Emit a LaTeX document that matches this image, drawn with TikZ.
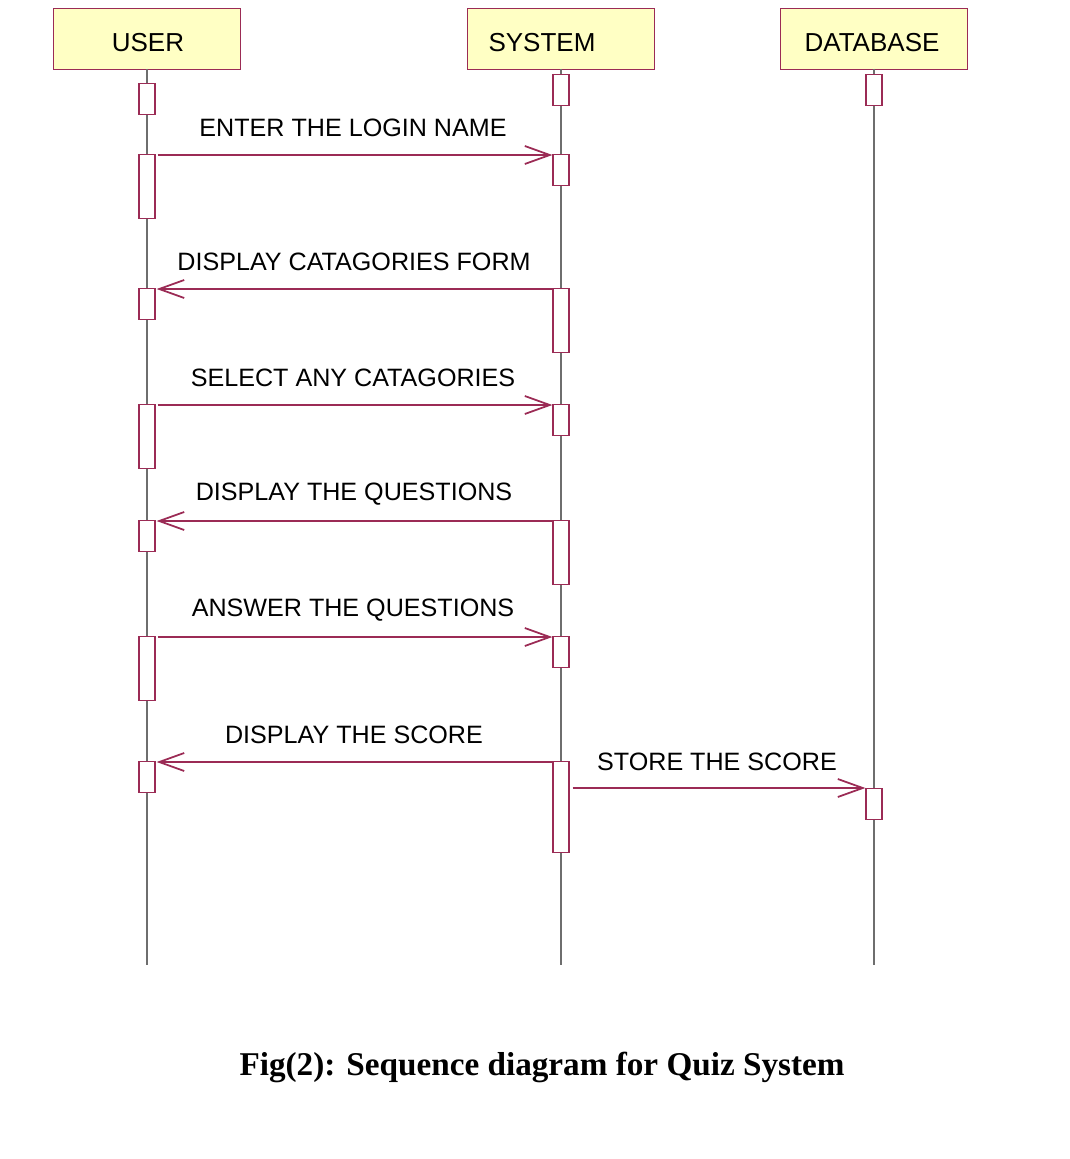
\documentclass[tikz,border=0pt]{standalone}
\usepackage{fontspec}
\setmainfont{Liberation Sans}
\newfontfamily\capfont{Liberation Serif}
\usetikzlibrary{arrows.meta}
\definecolor{maroon}{HTML}{9B2B55}
\definecolor{headfill}{HTML}{FFFFC4}
\definecolor{lifegray}{HTML}{6E6E6E}
\tikzset{
  head/.style={draw=maroon, fill=headfill, line width=0.7pt, minimum width=3.74cm, minimum height=1.22cm, anchor=north west, inner sep=0pt},
  headtxt/.style={font=\fontsize{14.8}{17}\selectfont, inner sep=0pt},
  bar/.style={draw=maroon, fill=white, line width=0.7pt, minimum width=0.32cm, inner sep=0pt, anchor=north},
  life/.style={draw=lifegray, line width=0.6pt},
  msg/.style={draw=maroon, line width=0.8pt, -{Straight Barb[length=0.5cm, width=0.36cm, line width=1pt]}},
  lbl/.style={font=\fontsize{14.3}{17}\selectfont, inner sep=0pt}
}
\begin{document}
\begin{tikzpicture}[x=0.02cm, y=-0.02cm]
\useasboundingbox (0,0) rectangle (1070,1159);
% headers
\node[head] (user) at (53,8) {};
\node[head] (system) at (467,8) {};
\node[head] (db) at (780,8) {};
\node[headtxt] (usert) at (148,43) {USER};
\node[headtxt] (systemt) at (542,43) {SYSTEM};
\node[headtxt] (dbt) at (872,43) {DATABASE};
% lifelines
\coordinate (uend) at (147,965);
\coordinate (send) at (561,965);
\coordinate (dend) at (874,965);
\draw[life] (147,69) -- (uend);
\draw[life] (561,69) -- (send);
\draw[life] (874,69) -- (dend);
% user bars
\node[bar, minimum height=0.62cm] (u1) at (147,83) {};
\node[bar, minimum height=1.28cm] (u2) at (147,154) {};
\node[bar, minimum height=0.62cm] (u3) at (147,288) {};
\node[bar, minimum height=1.28cm] (u4) at (147,404) {};
\node[bar, minimum height=0.62cm] (u5) at (147,520) {};
\node[bar, minimum height=1.28cm] (u6) at (147,636) {};
\node[bar, minimum height=0.62cm] (u7) at (147,761) {};
% system bars
\node[bar, minimum height=0.62cm] (s1) at (561,74) {};
\node[bar, minimum height=0.62cm] (s2) at (561,154) {};
\node[bar, minimum height=1.28cm] (s3) at (561,288) {};
\node[bar, minimum height=0.62cm] (s4) at (561,404) {};
\node[bar, minimum height=1.28cm] (s5) at (561,520) {};
\node[bar, minimum height=0.62cm] (s6) at (561,636) {};
\node[bar, minimum height=1.82cm] (s7) at (561,761) {};
% database bars
\node[bar, minimum height=0.62cm] (d1) at (874,74) {};
\node[bar, minimum height=0.62cm] (d2) at (874,788) {};
% messages
\draw[msg] ([xshift=0.04cm,yshift=-0.02cm]u2.north east) -- ([yshift=-0.02cm]s2.north west);
\node[lbl] (m1) at (353,128) {ENTER THE LOGIN NAME};
\draw[msg] ([yshift=-0.02cm]s3.north west) -- ([xshift=0.02cm,yshift=-0.02cm]u3.north east);
\node[lbl] (m2) at (354,262) {DISPLAY CATAGORIES FORM};
\draw[msg] ([xshift=0.04cm,yshift=-0.02cm]u4.north east) -- ([yshift=-0.02cm]s4.north west);
\node[lbl] (m3) at (353,378) {SELECT ANY CATAGORIES};
\draw[msg] ([yshift=-0.02cm]s5.north west) -- ([xshift=0.02cm,yshift=-0.02cm]u5.north east);
\node[lbl] (m4) at (354,494) {DISPLAY THE QUESTIONS};
\draw[msg] ([xshift=0.04cm,yshift=-0.02cm]u6.north east) -- ([yshift=-0.02cm]s6.north west);
\node[lbl] (m5) at (353,610) {ANSWER THE QUESTIONS};
\draw[msg] ([yshift=-0.02cm]s7.north west) -- ([xshift=0.02cm,yshift=-0.02cm]u7.north east);
\node[lbl] (m6) at (354,735) {DISPLAY THE SCORE};
\draw[msg] ([xshift=0.06cm]s7.east |- d2.north) -- (d2.north west);
\node[lbl] (m7) at (717,762) {STORE THE SCORE};
% caption
\node[font=\capfont\bfseries\fontsize{18.9}{22}\selectfont, inner sep=0pt] (cap) at (542,1067) {Fig(2): Sequence diagram for Quiz System};
\end{tikzpicture}
\end{document}
